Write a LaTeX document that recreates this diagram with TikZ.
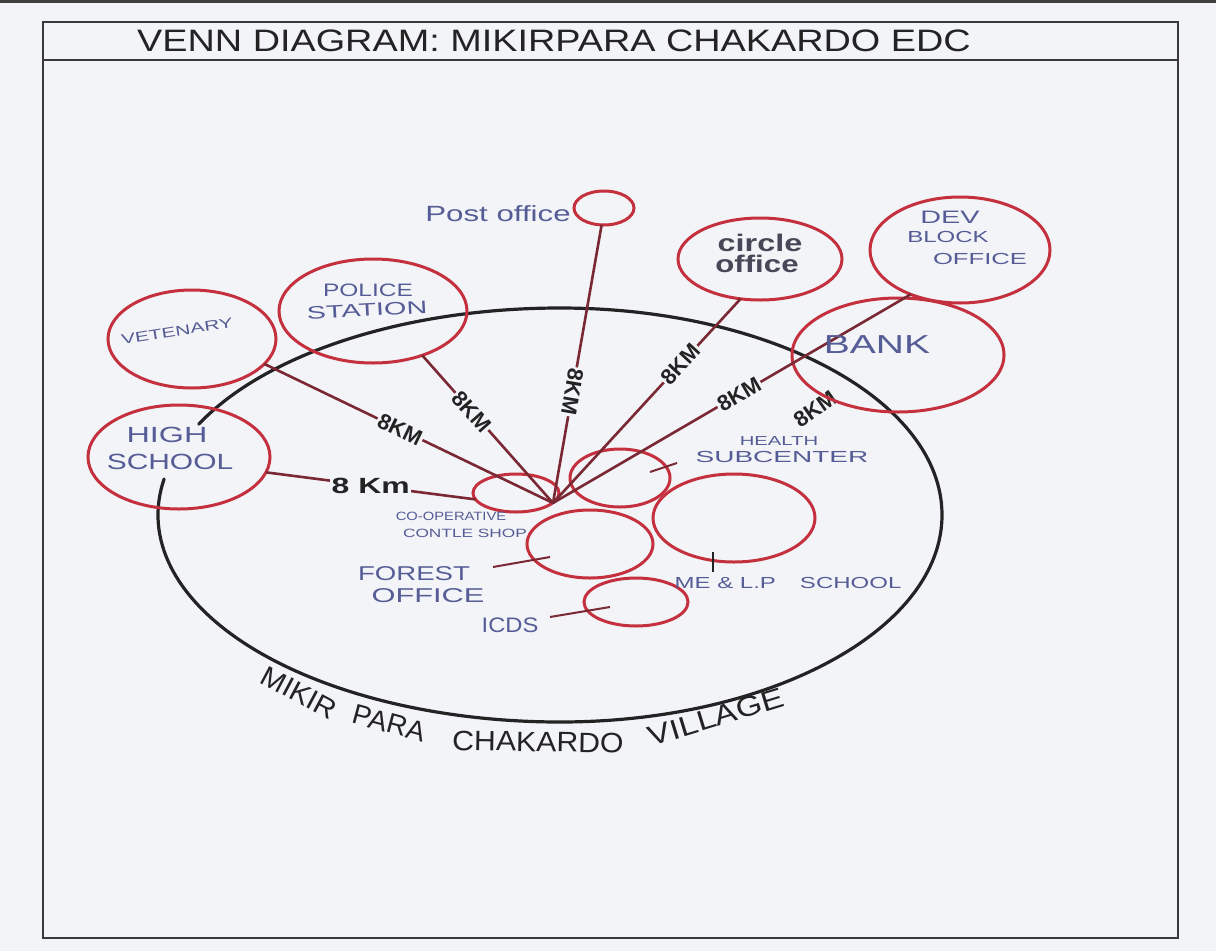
\documentclass[tikz,border=0pt]{standalone}
\usepackage{graphicx}
\usepackage{fontspec}
\setmainfont{Liberation Sans}
\usetikzlibrary{shapes.geometric}
\definecolor{bg}{RGB}{242,244,247}
\definecolor{redc}{RGB}{196,48,62}
\definecolor{connc}{RGB}{122,40,52}
\definecolor{inkblue}{RGB}{85,92,150}
\definecolor{inkblack}{RGB}{35,35,35}
\definecolor{inkgray}{RGB}{70,72,88}
\newcommand{\hs}[2]{\scalebox{#1}[1]{#2}}
\newcommand{\fs}[1]{\fontsize{#1}{#1}\selectfont}
\begin{document}
\begin{tikzpicture}[x=1pt,y=1pt,
  place/.style={ellipse, draw=redc, line width=3pt, inner sep=0pt, outer sep=0pt},
  conn/.style={draw=connc, line width=2.6pt},
  tickline/.style={draw=connc, line width=2pt},
  km/.style={text=inkblack, font={\bfseries\fs{22}}, fill=bg, inner sep=1.5pt},
  lbl/.style={text=inkblue, inner sep=0pt},
  vlbl/.style={text=inkblack, font=\fs{28}, inner sep=0pt},
  framel/.style={draw=inkblack!90, line width=2.8pt},
  villc/.style={draw=inkblack, line width=3.2pt, line cap=round}
]
\useasboundingbox (0,0) rectangle (1216,-951);
\fill[bg] (0,0) rectangle (1216,-951);
\fill[black!75] (0,0) rectangle (1216,-3);
% frame
\draw[framel] (43,-22) rectangle (1178,-938);
\draw[framel] (43,-60) -- (1178,-60);
\node[text=inkblack, font=\fs{31}, inner sep=0pt] (title) at (554,-41) {\hs{1.22}{VENN DIAGRAM: MIKIRPARA CHAKARDO EDC}};
% village boundary (broken inside the High School circle)
\coordinate (vc) at (560,-515);
\draw[villc] ([shift={(154:402 and 207)}]vc)
  arc[start angle=154, end angle=90, x radius=402, y radius=207]
  arc[start angle=90, end angle=-90, x radius=382, y radius=207]
  arc[start angle=270, end angle=170, x radius=402, y radius=207];
% bank km label (partly under bank circle)
\node[km, fill=none, rotate=35] (bankkm) at (815,-409) {8KM};
% red circles
\node[place, minimum width=60, minimum height=34] (post) at (604,-208) {};
\node[place, minimum width=188, minimum height=104] (police) at (373,-311) {};
\node[place, minimum width=168, minimum height=98] (vet) at (192,-339) {};
\node[place, minimum width=182, minimum height=104] (hs) at (179,-457) {};
\node[place, minimum width=164, minimum height=82] (co) at (760,-259) {};
\node[place, minimum width=180, minimum height=106] (dev) at (960,-250) {};
\node[place, minimum width=212, minimum height=114] (bank) at (898,-355) {};
\node[place, minimum width=86, minimum height=38] (coop) at (516,-493) {};
\node[place, minimum width=100, minimum height=58] (health) at (620,-478) {};
\node[place, minimum width=126, minimum height=68] (forest) at (590,-544) {};
\node[place, minimum width=162, minimum height=88] (me) at (734,-518) {};
\node[place, minimum width=104, minimum height=48] (icds) at (636,-602) {};
% hub
\coordinate (hub) at (553,-503);
% connectors
\draw[conn] (vet.-19) -- node[km, sloped, pos=0.47] (kvet) {8KM} (hub);
\draw[conn] (police.-42) -- node[km, sloped, pos=0.38] (kpol) {8KM} (hub);
\draw[conn] (post.262) -- node[km, sloped, allow upside down, pos=0.6] (kpost) {8KM} (hub);
\draw[conn] (co.244) -- node[km, sloped, pos=0.32] (kco) {8KM} (hub);
\draw[conn] (dev.222) -- node[km, sloped, pos=0.48] (kdev) {8KM} (hub);
\draw[conn] (hs.-10) -- node[km, pos=0.5] (khs) {\hs{1.45}{8 Km}} (coop.189);
% short pointer lines
\coordinate (ht1) at (650,-472); \coordinate (ht2) at (677,-463);
\draw[tickline] (ht1) -- (ht2);
\coordinate (fl1) at (493,-567); \coordinate (fl2) at (550,-557);
\draw[tickline] (fl1) -- (fl2);
\coordinate (il1) at (550,-617); \coordinate (il2) at (610,-607);
\draw[tickline] (il1) -- (il2);
\coordinate (mt1) at (713,-552); \coordinate (mt2) at (713,-572);
\draw[draw=inkblack, line width=2.6pt] (mt1) -- (mt2);
% labels
\node[lbl, font=\fs{22}] (postl) at (498,-214) {\hs{1.42}{Post office}};
\node[lbl, font=\fs{18}] (pol1) at (368,-290) {\hs{1.36}{POLICE}};
\node[lbl, font=\fs{18}, rotate=3] (pol2) at (367,-310) {\hs{1.6}{STATION}};
\node[lbl, font=\fs{14}, rotate=9] (vetl) at (177,-331) {\hs{1.5}{VETENARY}};
\node[lbl, font=\fs{22}] (hs1) at (167,-435) {\hs{1.47}{HIGH}};
\node[lbl, font=\fs{22}] (hs2) at (170,-462) {\hs{1.36}{SCHOOL}};
\node[lbl, font=\fs{12}] (coop1) at (451,-516) {\hs{1.23}{CO-OPERATIVE}};
\node[lbl, font=\fs{12}] (coop2) at (465,-533) {\hs{1.44}{CONTLE SHOP}};
\node[lbl, font=\fs{20}] (for1) at (414,-574) {\hs{1.38}{FOREST}};
\node[lbl, font=\fs{20}] (for2) at (428,-596) {\hs{1.54}{OFFICE}};
\node[lbl, font=\fs{21}] (icdsl) at (510,-625) {\hs{1.13}{ICDS}};
\node[lbl, font=\fs{13}] (hl1) at (779,-441) {\hs{1.56}{HEALTH}};
\node[lbl, font=\fs{16}] (hl2) at (782,-457) {\hs{1.75}{SUBCENTER}};
\node[lbl, font=\fs{16}] (mel) at (788,-583) {\hs{1.5}{ME \& L.P\hspace{1em}SCHOOL}};
\node[lbl, font=\fs{18}] (dev1) at (950,-217) {\hs{1.6}{DEV}};
\node[lbl, font=\fs{16}] (dev2) at (948,-237) {\hs{1.5}{BLOCK}};
\node[lbl, font=\fs{16}] (dev3) at (980,-259) {\hs{1.6}{OFFICE}};
\node[lbl, font=\fs{26}] (bankl) at (877,-345) {\hs{1.5}{BANK}};
\node[text=inkgray, inner sep=0pt, font={\bfseries\fs{24}}] (co1) at (760,-243) {\hs{1.35}{circle}};
\node[text=inkgray, inner sep=0pt, font={\bfseries\fs{24}}] (co2) at (757,-264) {\hs{1.3}{office}};
% village name
\node[vlbl, rotate=-28] (v1) at (299,-693) {\hs{1.05}{MIKIR}};
\node[vlbl, rotate=-15] (v2) at (389,-723) {PARA};
\node[vlbl, rotate=-1] (v3) at (538,-742) {\hs{1.08}{CHAKARDO}};
\node[vlbl, rotate=17] (v4) at (716,-717) {\hs{1.2}{VILLAGE}};
\end{tikzpicture}
\end{document}
